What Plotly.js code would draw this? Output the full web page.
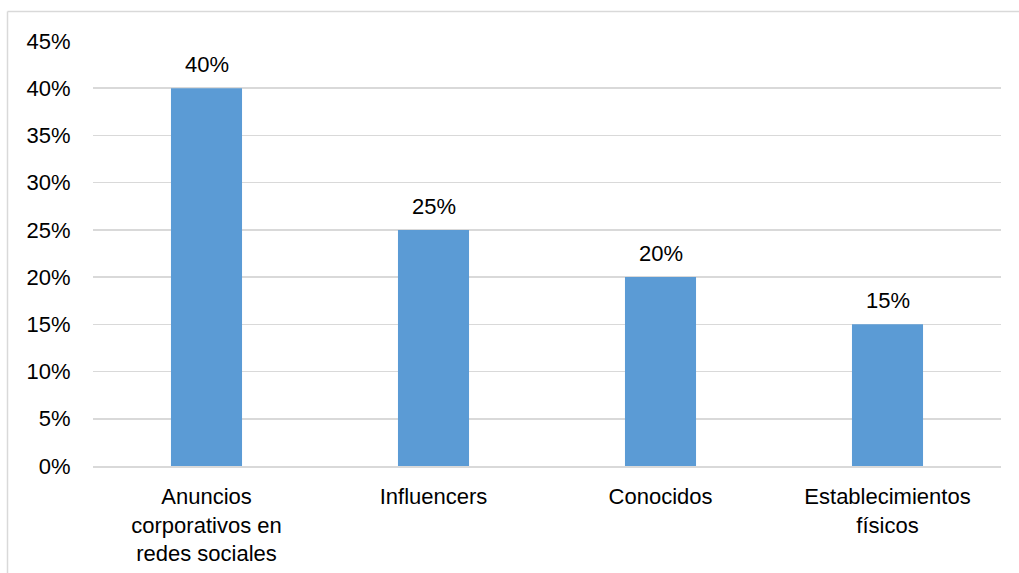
<!DOCTYPE html>
<html><head><meta charset="utf-8">
<script src="https://cdn.plot.ly/plotly-3.0.1.min.js"></script>
<style>html,body{margin:0;padding:0;background:#fff}#chart{width:1019px;height:573px}</style>
</head><body><div id="chart"></div>
<script>
const categories = ["Anuncios<br>corporativos en<br>redes sociales", "Influencers", "Conocidos", "Establecimientos<br>físicos"];
const values = [0.40, 0.25, 0.20, 0.15];
const tickVals = [0, 0.05, 0.10, 0.15, 0.20, 0.25, 0.30, 0.35, 0.40, 0.45];
const tickText = ["0%", "5%", "10%", "15%", "20%", "25%", "30%", "35%", "40%", "45%"];

const L = 93, R = 18, T = 41, B = 106.5, W = 1019, H = 573;
const pw = W - L - R, ph = H - T - B;
const px = x => (x - L) / pw;
const py = y => (H - B - y) / ph;
const FONT = 'Liberation Sans, Arial, sans-serif';
const FS = 22;

Plotly.newPlot('chart', [{
  type: 'bar', x: categories, y: values,
  marker: {color: '#5B9BD5'},
  hoverinfo: 'none'
}], {
  width: W, height: H,
  margin: {l: L, r: R, t: T, b: B, pad: 0},
  paper_bgcolor: '#fff', plot_bgcolor: '#fff',
  bargap: 0.687,
  showlegend: false,
  font: {family: FONT, size: FS, color: '#000'},
  xaxis: {showgrid: false, zeroline: false, showline: true, linecolor: '#D9D9D9', linewidth: 1.5,
          ticks: 'outside', ticklen: 10, tickcolor: 'rgba(0,0,0,0)', tickfont: {size: FS}},
  yaxis: {range: [0, 0.45], tickvals: tickVals, ticktext: tickText, showgrid: true, gridcolor: '#D9D9D9', gridwidth: 1.5,
          zeroline: false, showline: false, ticks: 'outside', ticklen: 17, tickcolor: 'rgba(0,0,0,0)', tickfont: {size: FS}},
  annotations: values.map((v, i) => ({
    x: categories[i], y: v, xref: 'x', yref: 'y', text: Math.round(v * 100) + '%',
    showarrow: false, yanchor: 'bottom', yshift: 9, font: {family: FONT, size: FS, color: '#000'}
  })),
  shapes: [
    {type: 'line', xref: 'paper', yref: 'paper', x0: px(7.5), x1: px(1030), y0: py(11.5), y1: py(11.5), line: {color: '#D9D9D9', width: 1.5}},
    {type: 'line', xref: 'paper', yref: 'paper', x0: px(7.5), x1: px(7.5), y0: py(11.5), y1: py(590), line: {color: '#D9D9D9', width: 1.5}}
  ]
}, {staticPlot: true});
</script></body></html>
